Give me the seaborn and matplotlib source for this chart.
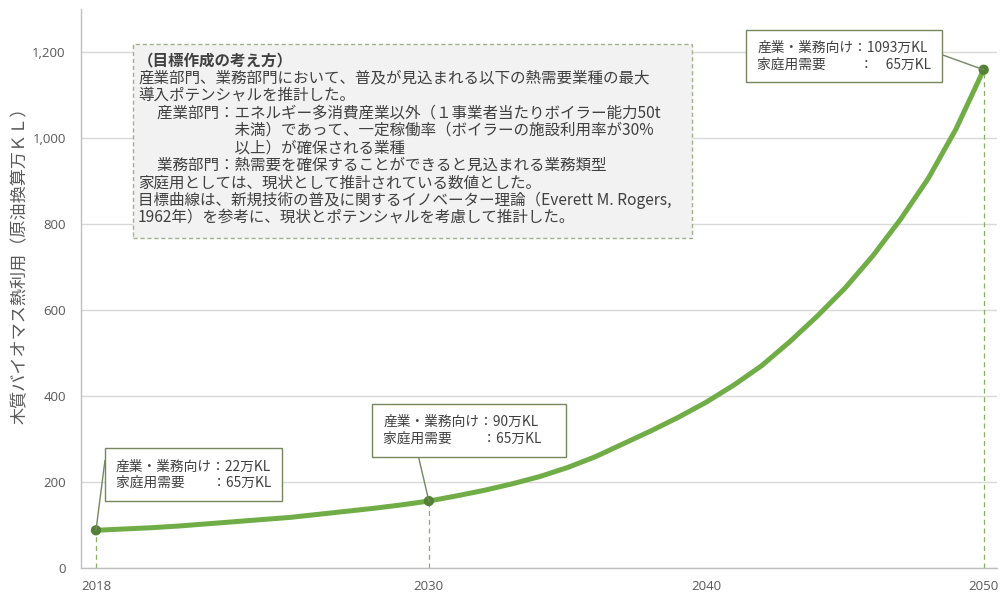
import matplotlib
matplotlib.use("Agg")
import matplotlib.pyplot as plt
import seaborn as sns
import pandas as pd
from matplotlib.patches import Rectangle
from matplotlib.ticker import FuncFormatter

# ---------------- data ----------------
years = list(range(2018, 2051))
target_values = [87, 90, 93, 97, 102, 107, 112, 117, 124, 131,
                 138, 146, 155, 167, 180, 195, 212, 233, 258, 288,
                 318, 350, 385, 425, 470, 525, 585, 650, 725, 810,
                 905, 1020, 1158]
milestone_years = [2018, 2030, 2050]
industry_values = [22, 90, 1093]      # 産業・業務向け（万KL）
household_values = [65, 65, 65]       # 家庭用需要（万KL）
x_ticks = [2018, 2030, 2040, 2050]
y_ticks = [0, 200, 400, 600, 800, 1000, 1200]
y_label = "木質バイオマス熱利用（原油換算万ＫＬ）"
note_title = "（目標作成の考え方）"
note_lines = [
    "産業部門、業務部門において、普及が見込まれる以下の熱需要業種の最大",
    "導入ポテンシャルを推計した。",
    "　 産業部門：エネルギー多消費産業以外（１事業者当たりボイラー能力50t",
    "　　　　　　 未満）であって、一定稼働率（ボイラーの施設利用率が30%",
    "　　　　　　 以上）が確保される業種",
    "　 業務部門：熱需要を確保することができると見込まれる業務類型",
    "家庭用としては、現状として推計されている数値とした。",
    "目標曲線は、新規技術の普及に関するイノベーター理論（Everett M. Rogers,",
    "1962年）を参考に、現状とポテンシャルを考慮して推計した。",
]
callout_texts = [
    "産業・業務向け：{}万KL\n家庭用需要　　：{}万KL",
    "産業・業務向け：{}万KL\n家庭用需要　　 ：{}万KL　",
    "産業・業務向け：{}万KL\n家庭用需要　　  ：    {}万KL",
]

# ---------------- style ----------------
sns.set_theme(style="white")
plt.rcParams['font.family'] = ['Noto Sans CJK JP', 'DejaVu Sans']

W, H = 1004, 595
fig = plt.figure(figsize=(W / 100, H / 100), dpi=100)
ax = fig.add_axes([81 / W, 1 - 567.7 / H, 916 / W, 559 / H])

df = pd.DataFrame({"year": years, "value": target_values})
milestone_totals = [i + h for i, h in zip(industry_values, household_values)]

sns.lineplot(data=df, x="year", y="value", ax=ax, color="#70AD47",
             linewidth=3.6, zorder=3, solid_joinstyle="round",
             solid_capstyle="round")
ax.vlines(milestone_years, 0, milestone_totals, colors="#8aab6c",
          linestyles=(0, (4, 3)), linewidth=0.9, zorder=2)
sns.scatterplot(x=milestone_years, y=milestone_totals, ax=ax,
                color="#548235", s=55, edgecolor="none", zorder=4)

ax.set_xlim(2017.46, 2050.48)
ax.set_ylim(0, 1300)
ax.set_xticks(x_ticks)
ax.set_yticks(y_ticks)
ax.yaxis.set_major_formatter(FuncFormatter(lambda v, p: f"{int(v):,}"))
ax.set_xlabel("")
ax.set_ylabel("")
ax.yaxis.grid(True, color="#d9d9d9", linewidth=1)
ax.xaxis.grid(False)
ax.set_axisbelow(True)
sns.despine(ax=ax)
for s in ("left", "bottom"):
    ax.spines[s].set_color("#bfbfbf")
    ax.spines[s].set_linewidth(1)
ax.tick_params(axis="both", length=0, labelsize=9.5, labelcolor="#595959")
ax.tick_params(axis="y", pad=11)
ax.tick_params(axis="x", pad=9)
for lbl in ax.get_xticklabels() + ax.get_yticklabels():
    lbl.set_fontfamily("Open Sans")

fig.text(20 / W, 1 - 261 / H, y_label, rotation=90, ha="center", va="center",
         fontsize=12.3, color="#595959")

# ---------------- note box ----------------
fig.add_artist(Rectangle((133 / W, 1 - 238 / H), 559 / W, 194 / H,
                         transform=fig.transFigure, facecolor="#f2f2f2",
                         edgecolor="#a3b08c", linestyle=(0, (3, 2)),
                         linewidth=1, zorder=5))
all_lines = [note_title] + note_lines
for i, line in enumerate(all_lines):
    y = 60 + i * 17.6
    fig.text(138 / W, 1 - y / H, line, ha="left", va="center",
             fontsize=11.2, color="#404040",
             fontweight="bold" if i == 0 else "normal", zorder=6)

# ---------------- callouts ----------------
text_offsets = [(20, 55.5), (-45.7, 70.7), (-226.6, 13.7)]
leader_offsets = [(9, 70), (-10, 42.7), (-41.6, 15)]
for k in range(len(milestone_years)):
    xy = (milestone_years[k], milestone_totals[k])
    ax.annotate("", xy=xy, xytext=leader_offsets[k], textcoords="offset pixels",
                arrowprops=dict(arrowstyle="-", color="#76865f", lw=1,
                                shrinkA=0, shrinkB=0), zorder=5)
    ax.annotate(callout_texts[k].format(industry_values[k], household_values[k]),
                xy=xy, xytext=text_offsets[k], textcoords="offset pixels",
                ha="left", va="center", fontsize=9.9, color="#404040",
                linespacing=1.25,
                bbox=dict(boxstyle="square,pad=0.8", facecolor="white",
                          edgecolor="#76865f", linewidth=1), zorder=6)

fig.savefig("out.png", dpi=100)
